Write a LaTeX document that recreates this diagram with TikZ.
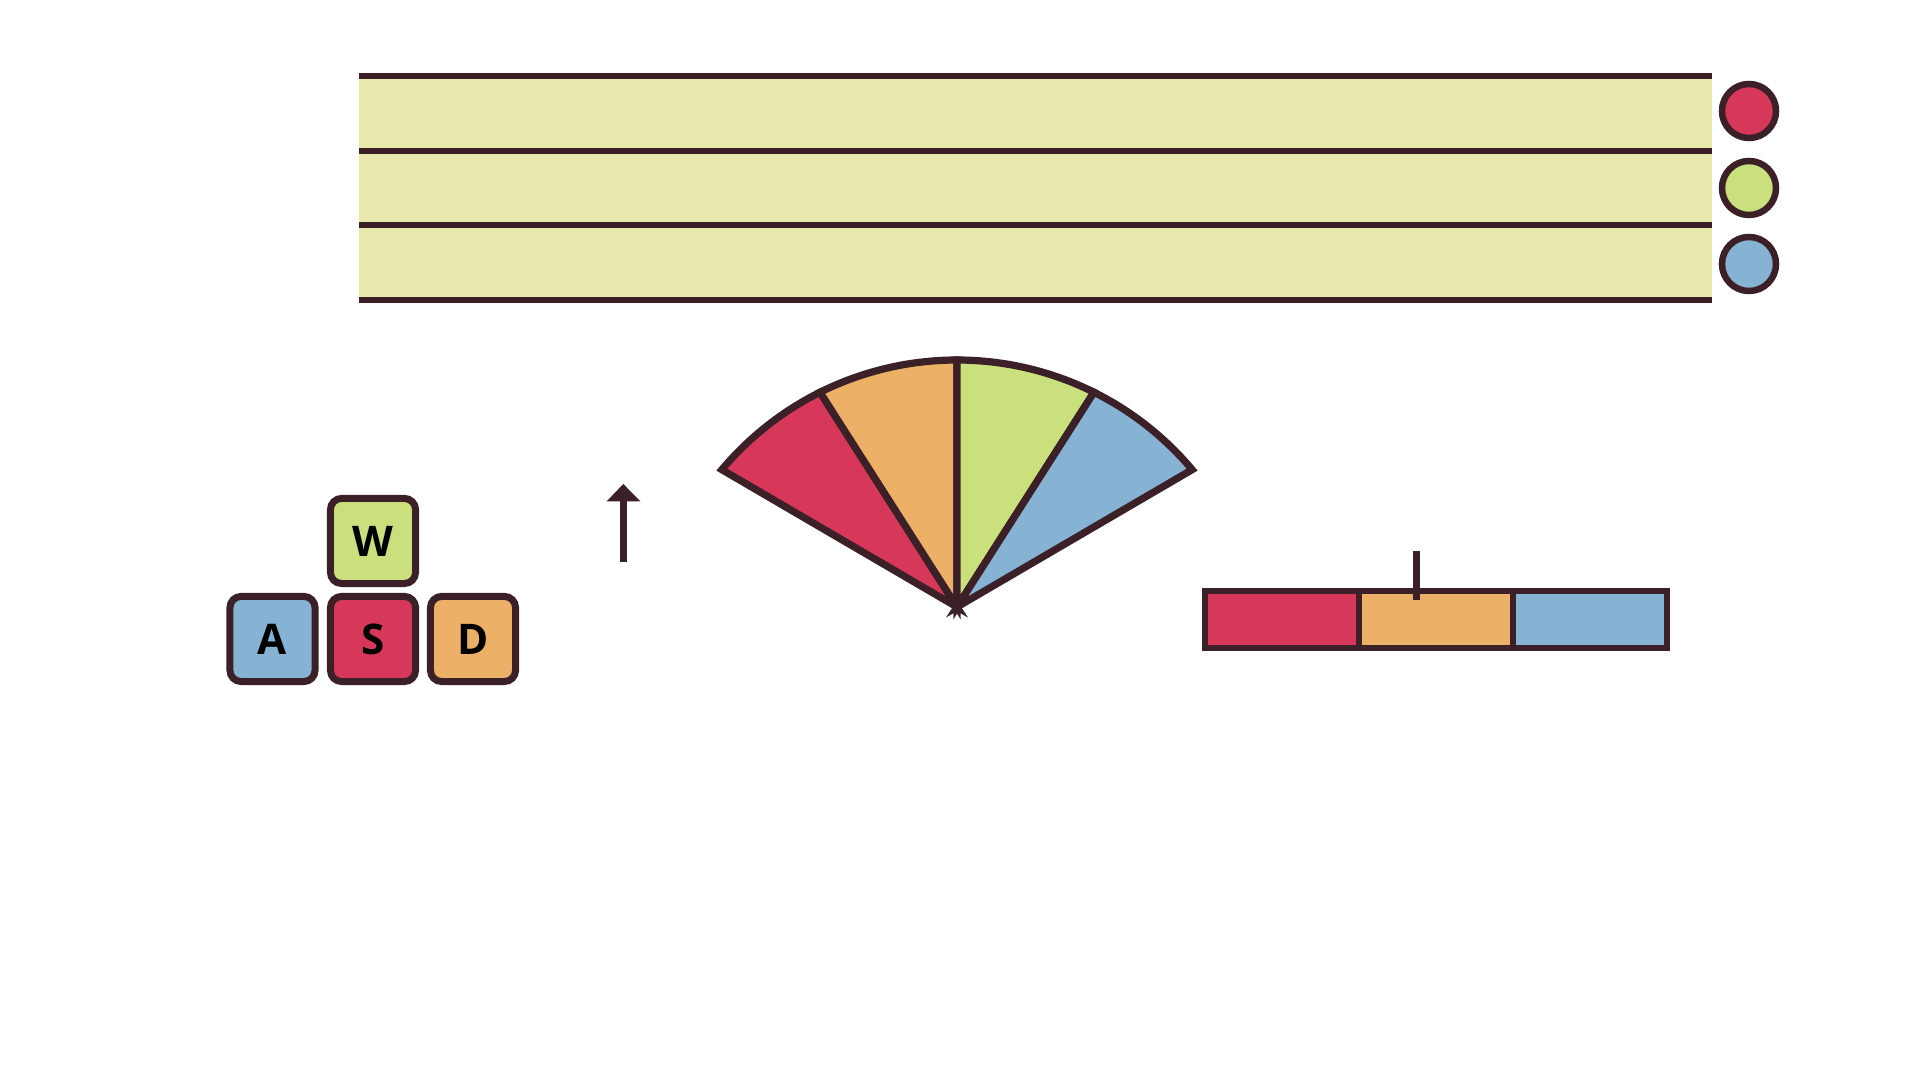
\documentclass[tikz,border=0pt]{standalone}
\usepackage{fontspec}
\setmainfont{Open Sans}
\definecolor{dark}{HTML}{3B2027}
\definecolor{kred}{HTML}{D7385A}
\definecolor{korange}{HTML}{EDB067}
\definecolor{kgreen}{HTML}{C9E07C}
\definecolor{kblue}{HTML}{86B2D3}
\definecolor{lane}{HTML}{E9E9AD}
\begin{document}
\begin{tikzpicture}[x=0.01cm,y=-0.01cm,
  lw/.style={draw=dark,line width=0.06cm},
  key/.style={draw=dark,line width=0.07cm,rounded corners=0.11cm,minimum size=0.85cm,inner sep=0pt,
    font=\fontsize{12}{12}\selectfont\bfseries,text=black},
  dot/.style={circle,draw=dark,line width=0.065cm,minimum size=0.54cm,inner sep=0pt},
  fan/.style={draw=dark,line width=0.072cm,line join=miter}]
\useasboundingbox (0,0) rectangle (1920,1080);
% lanes
\fill[lane] (359,76) rectangle (1712,300);
\foreach \y in {76,151,225,300} \draw[lw] (359,\y) -- (1712,\y);
\node[dot,fill=kred] (c1) at (1749,111) {};
\node[dot,fill=kgreen] (c2) at (1749,188) {};
\node[dot,fill=kblue] (c3) at (1749,264) {};
% keys
\node[key,fill=kgreen] (w) at (373,541) {W};
\node[key,fill=kblue] (a) at (272.5,639) {A};
\node[key,fill=kred] (s) at (373,639) {S};
\node[key,fill=korange] (d) at (473,639) {D};
% arrow
\draw[lw,line width=0.067cm] (623.3,562) -- (623.3,498);
\fill[dark] (606.5,501.5) -- (623.3,484) -- (640.5,501.5) -- cycle;
% fan
\coordinate (apex) at (957,607);
\foreach \a/\b/\c in {220/243.5/kred,243.5/270/korange,270/296.5/kgreen,296.5/320/kblue}
  \filldraw[fan,fill=\c] (apex) -- plot[domain=\a:\b,samples=30] ({957+307*cos(\x)},{667+307*sin(\x)}) -- cycle;
% bar
\draw[lw,fill=kred] (1205,591) rectangle (1359,648);
\draw[lw,fill=korange] (1359,591) rectangle (1513,648);
\draw[lw,fill=kblue] (1513,591) rectangle (1667,648);
\draw[draw=dark,line width=0.07cm] (1416,551) -- (1416,600);
\end{tikzpicture}
\end{document}
